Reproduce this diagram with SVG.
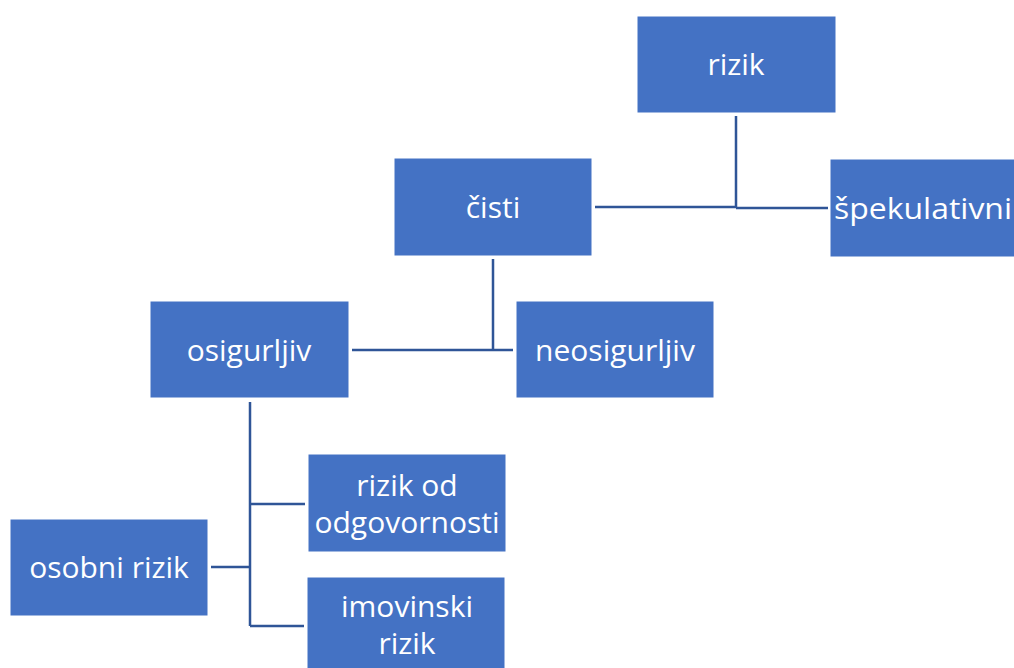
<svg xmlns="http://www.w3.org/2000/svg" width="1014" height="668" viewBox="0 0 1014 668">
<style>
.box{fill:#4472C4;stroke:#ffffff;stroke-width:1}
.t{font-family:"Open Sans","Liberation Sans",sans-serif;font-size:30px;fill:#ffffff;text-anchor:middle;dominant-baseline:central}
.c{stroke:#2F5597;stroke-width:2.5;fill:none}
</style>
<rect width="1014" height="668" fill="#ffffff"/>
<g id="connectors">
<path class="c" d="M736 116V208M595 207H736M736 208H828"/>
<path class="c" d="M493 259V350M352 350H513"/>
<path class="c" d="M250 402V626M250 504H305M211 567H250M250 626H304"/>
</g>
<g id="n-rizik"><rect class="box" x="637" y="16" width="199" height="97"/><text class="t" x="736" y="63">rizik</text></g>
<g id="n-cisti"><rect class="box" x="394" y="158" width="198" height="98"/><text class="t" x="493" y="206">čisti</text></g>
<g id="n-spekulativni"><rect class="box" x="830" y="159" width="199" height="98"/><text class="t" x="923" y="207" textLength="178" lengthAdjust="spacingAndGlyphs">špekulativni</text></g>
<g id="n-osigurljiv"><rect class="box" x="150" y="301" width="199" height="97"/><text class="t" x="249" y="349">osigurljiv</text></g>
<g id="n-neosigurljiv"><rect class="box" x="516" y="301" width="198" height="97"/><text class="t" x="615" y="349">neosigurljiv</text></g>
<g id="n-odgovornost"><rect class="box" x="308" y="454" width="198" height="98"/><text class="t" x="407" y="484">rizik od</text><text class="t" x="407" y="521">odgovornosti</text></g>
<g id="n-osobni"><rect class="box" x="10" y="519" width="198" height="97"/><text class="t" x="109" y="566">osobni rizik</text></g>
<g id="n-imovinski"><rect class="box" x="307" y="577" width="198" height="98"/><text class="t" x="407" y="605">imovinski</text><text class="t" x="407" y="642">rizik</text></g>
</svg>
